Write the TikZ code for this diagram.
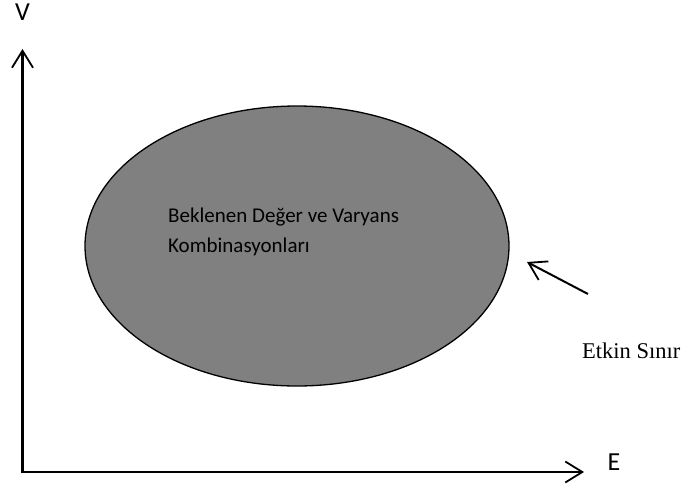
\documentclass[tikz,border=0pt]{standalone}
\usepackage{fontspec}
\setmainfont{Liberation Serif}
\newfontfamily\calib{Carlito}
\usetikzlibrary{arrows.meta,shapes.geometric}
\tikzset{
  barb/.style={-{Straight Barb[length=17pt,width=21pt,line width=1.8pt]}},
  axis/.style={line width=2.2pt,barb},
  lbl/.style={font=\calib\fontsize{26}{30}\selectfont,inner sep=0pt},
  inner/.style={anchor=base west,inner sep=0pt,font=\calib\fontsize{21}{30}\selectfont},
}
\begin{document}
\begin{tikzpicture}[x=1pt,y=-1pt]
\useasboundingbox (0,0) rectangle (688,488);
\coordinate (O) at (22.5,472);
\coordinate (Vt) at (22.5,49);
\coordinate (Et) at (584,472);
\draw[axis] ([yshift=-1.1pt]O) -- (Vt);
\draw[axis] (O) -- (Et);
\node[lbl] (V) at (22.5,12) {V};
\node[lbl] (E) at (614,462) {E};
\node[draw=black,line width=1.3pt,fill={rgb,255:red,128;green,128;blue,128},ellipse,minimum width=424pt,minimum height=280pt,inner sep=0pt] (ell) at (297,246) {};
\node[inner] (txt1) at (168,222) {Beklenen Değer ve Varyans};
\node[inner] (txt2) at (168,252) {Kombinasyonları};
\coordinate (a1) at (588,294);
\coordinate (a2) at (527,262);
\draw[line width=2pt,barb] (a1) -- (a2);
\node[anchor=base west,inner sep=0pt,font=\fontsize{22.5}{26}\selectfont] (ek) at (582,358) {Etkin Sınır};
\end{tikzpicture}
\end{document}
